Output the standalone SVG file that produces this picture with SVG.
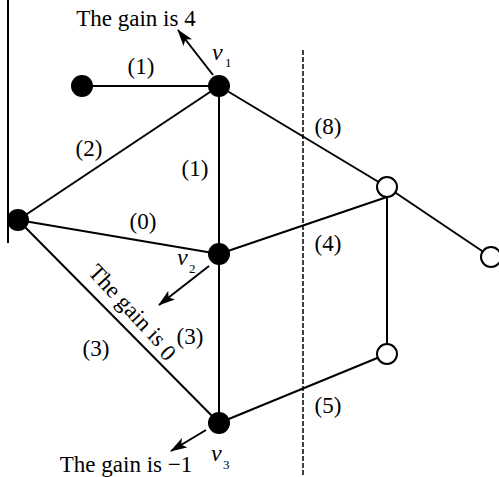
<svg xmlns="http://www.w3.org/2000/svg" width="499" height="477" viewBox="0 0 499 477">
<style>
.e{stroke:#000;stroke-width:2;fill:none}
.a{stroke:#000;stroke-width:2;fill:none;marker-end:url(#ah)}
.f{fill:#000}
.o{fill:#fff;stroke:#000;stroke-width:2}
text{font-family:"Liberation Serif","Times New Roman",serif;font-size:23px;fill:#000}
.m{text-anchor:middle}
.v{font-style:italic;font-size:24px}
.s{font-size:13px}
</style>
<defs>
<marker id="ah" markerWidth="17" markerHeight="11" refX="16" refY="5.5" orient="auto" markerUnits="userSpaceOnUse">
<path d="M0,0 L17,5.5 L0,11 L4,5.5 Z" fill="#000"/>
</marker>
</defs>
<g id="connectors">
<line class="e" x1="8" y1="0" x2="8" y2="243"/>
<line class="e" x1="303" y1="50" x2="303" y2="477" stroke-dasharray="5,2" style="stroke-width:1.5"/>
<line class="e" x1="82" y1="86" x2="219" y2="86"/>
<line class="e" x1="18" y1="220" x2="219" y2="86"/>
<line class="e" x1="219" y1="86" x2="219" y2="423"/>
<line class="e" x1="219" y1="86" x2="387" y2="187"/>
<line class="e" x1="18" y1="220" x2="219" y2="254"/>
<line class="e" x1="18" y1="220" x2="219" y2="423"/>
<line class="e" x1="219" y1="254" x2="387" y2="197"/>
<line class="e" x1="387" y1="197" x2="387" y2="354"/>
<line class="e" x1="387" y1="187" x2="491" y2="257"/>
<line class="e" x1="219" y1="423" x2="387" y2="354"/>
<line class="a" x1="213" y1="75" x2="178" y2="30"/>
<line class="a" x1="209" y1="266" x2="159" y2="305"/>
<line class="a" x1="206" y1="430" x2="171" y2="451"/>
</g>
<g id="n0"><circle class="f" cx="82" cy="86" r="11"/></g>
<g id="n1"><circle class="f" cx="18" cy="220" r="11"/></g>
<g id="v1"><circle class="f" cx="219" cy="86" r="11"/><text class="v" x="212" y="60">v</text><text class="s" x="225" y="67">1</text></g>
<g id="v2"><circle class="f" cx="219" cy="254" r="11"/><text class="v" x="177" y="265">v</text><text class="s" x="189" y="273">2</text></g>
<g id="v3"><circle class="f" cx="219" cy="423" r="11"/><text class="v" x="211" y="461">v</text><text class="s" x="223" y="469">3</text></g>
<g id="o1"><circle class="o" cx="387" cy="187" r="10"/></g>
<g id="o2"><circle class="o" cx="491" cy="257" r="10"/></g>
<g id="o3"><circle class="o" cx="387" cy="354" r="10"/></g>
<g id="labels">
<text class="m" x="141" y="74">(1)</text>
<text class="m" x="89" y="156">(2)</text>
<text class="m" x="195" y="176">(1)</text>
<text class="m" x="143" y="229">(0)</text>
<text class="m" x="328" y="134">(8)</text>
<text class="m" x="328" y="251">(4)</text>
<text class="m" x="328" y="413">(5)</text>
<text class="m" x="96" y="356">(3)</text>
<text class="m" x="190" y="344">(3)</text>
<text class="m" x="136" y="26">The gain is 4</text>
<text class="m" x="126" y="472">The gain is −1</text>
<text transform="translate(87,273) rotate(47)">The gain is <tspan dy="3">0</tspan></text>
</g>
</svg>
